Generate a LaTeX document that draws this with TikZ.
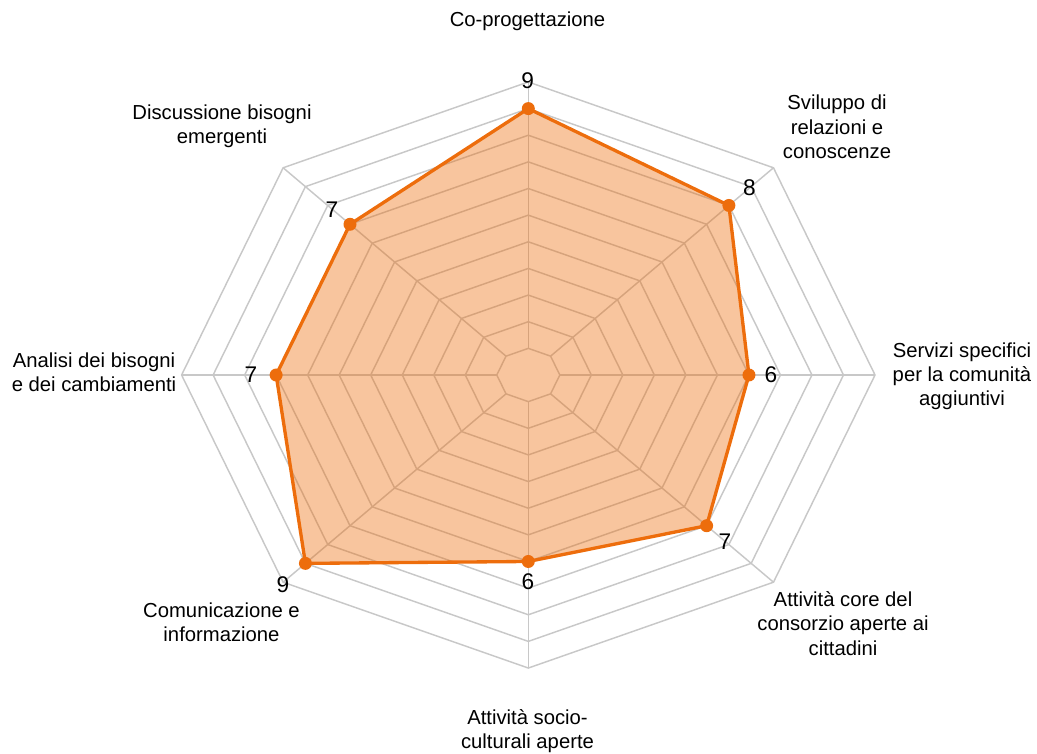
\documentclass[tikz,border=0pt]{standalone}
\usepackage{fontspec}
\setmainfont{Liberation Sans}
\definecolor{ora}{RGB}{237,109,12}
\definecolor{gridg}{RGB}{200,200,200}
\begin{document}
\begin{tikzpicture}[x=0.75pt,y=0.75pt,
  gridline/.style={draw=gridg, line width=1.1pt},
  series/.style={draw=ora, line width=2.5pt, line join=round, fill=ora, fill opacity=0.4},
  dot/.style={circle, fill=ora, draw=none, inner sep=0pt, minimum size=9.75pt},
  cat/.style={font=\fontsize{15.2}{18.2}\selectfont, align=center, inner sep=0pt},
  val/.style={font=\fontsize{17}{20}\selectfont, inner sep=0pt}]
\useasboundingbox (0,0) rectangle (1037,753);
\coordinate (ctr) at (528.3,378);
\begin{scope}[shift={(ctr)}, x=23.64pt, y=19.98pt]
  \foreach \r in {1,...,11} {
    \draw[gridline] (0:\r) -- (45:\r) -- (90:\r) -- (135:\r) -- (180:\r) -- (225:\r) -- (270:\r) -- (315:\r) -- cycle;
  }
  \foreach \a in {0,45,...,315} \draw[gridline] (\a:1) -- (\a:11);
  \coordinate (p1) at (90:10);
  \coordinate (p2) at (45:9);
  \coordinate (p3) at (0:7);
  \coordinate (p4) at (-45:8);
  \coordinate (p5) at (-90:7);
  \coordinate (p6) at (-135:10);
  \coordinate (p7) at (180:8);
  \coordinate (p8) at (135:8);
  \draw[series] (p1) -- (p2) -- (p3) -- (p4) -- (p5) -- (p6) -- (p7) -- (p8) -- cycle;
  \foreach \i in {1,...,8} \node[dot] (d\i) at (p\i) {};
\end{scope}
% value labels
\node[val] (v1) at (527.6,672) {9};
\node[val] (v2) at (749.5,565.5) {8};
\node[val] (v3) at (771,378) {6};
\node[val] (v4) at (725,211.3) {7};
\node[val] (v5) at (527.8,171.3) {6};
\node[val] (v6) at (283,168.7) {9};
\node[val] (v7) at (251,378) {7};
\node[val] (v8) at (332,543) {7};
% category labels
\node[cat, anchor=base] (c1) at (527.5,726) {Co-progettazione};
\node[cat] (c2) at (837,626) {Sviluppo di\\relazioni e\\conoscenze};
\node[cat] (c3) at (962,376.6) {Servizi specifici\\per la comunità\\aggiuntivi};
\node[cat] (c4) at (843,129.4) {Attività core del\\consorzio aperte ai\\cittadini};
\node[cat] (c5) at (527.5,22) {Attività socio-\\culturali aperte};
\node[cat] (c6) at (221.5,130.4) {Comunicazione e\\informazione};
\node[cat] (c7) at (94,381) {Analisi dei bisogni\\e dei cambiamenti};
\node[cat] (c8) at (222,627) {Discussione bisogni\\emergenti};
\end{tikzpicture}
\end{document}
